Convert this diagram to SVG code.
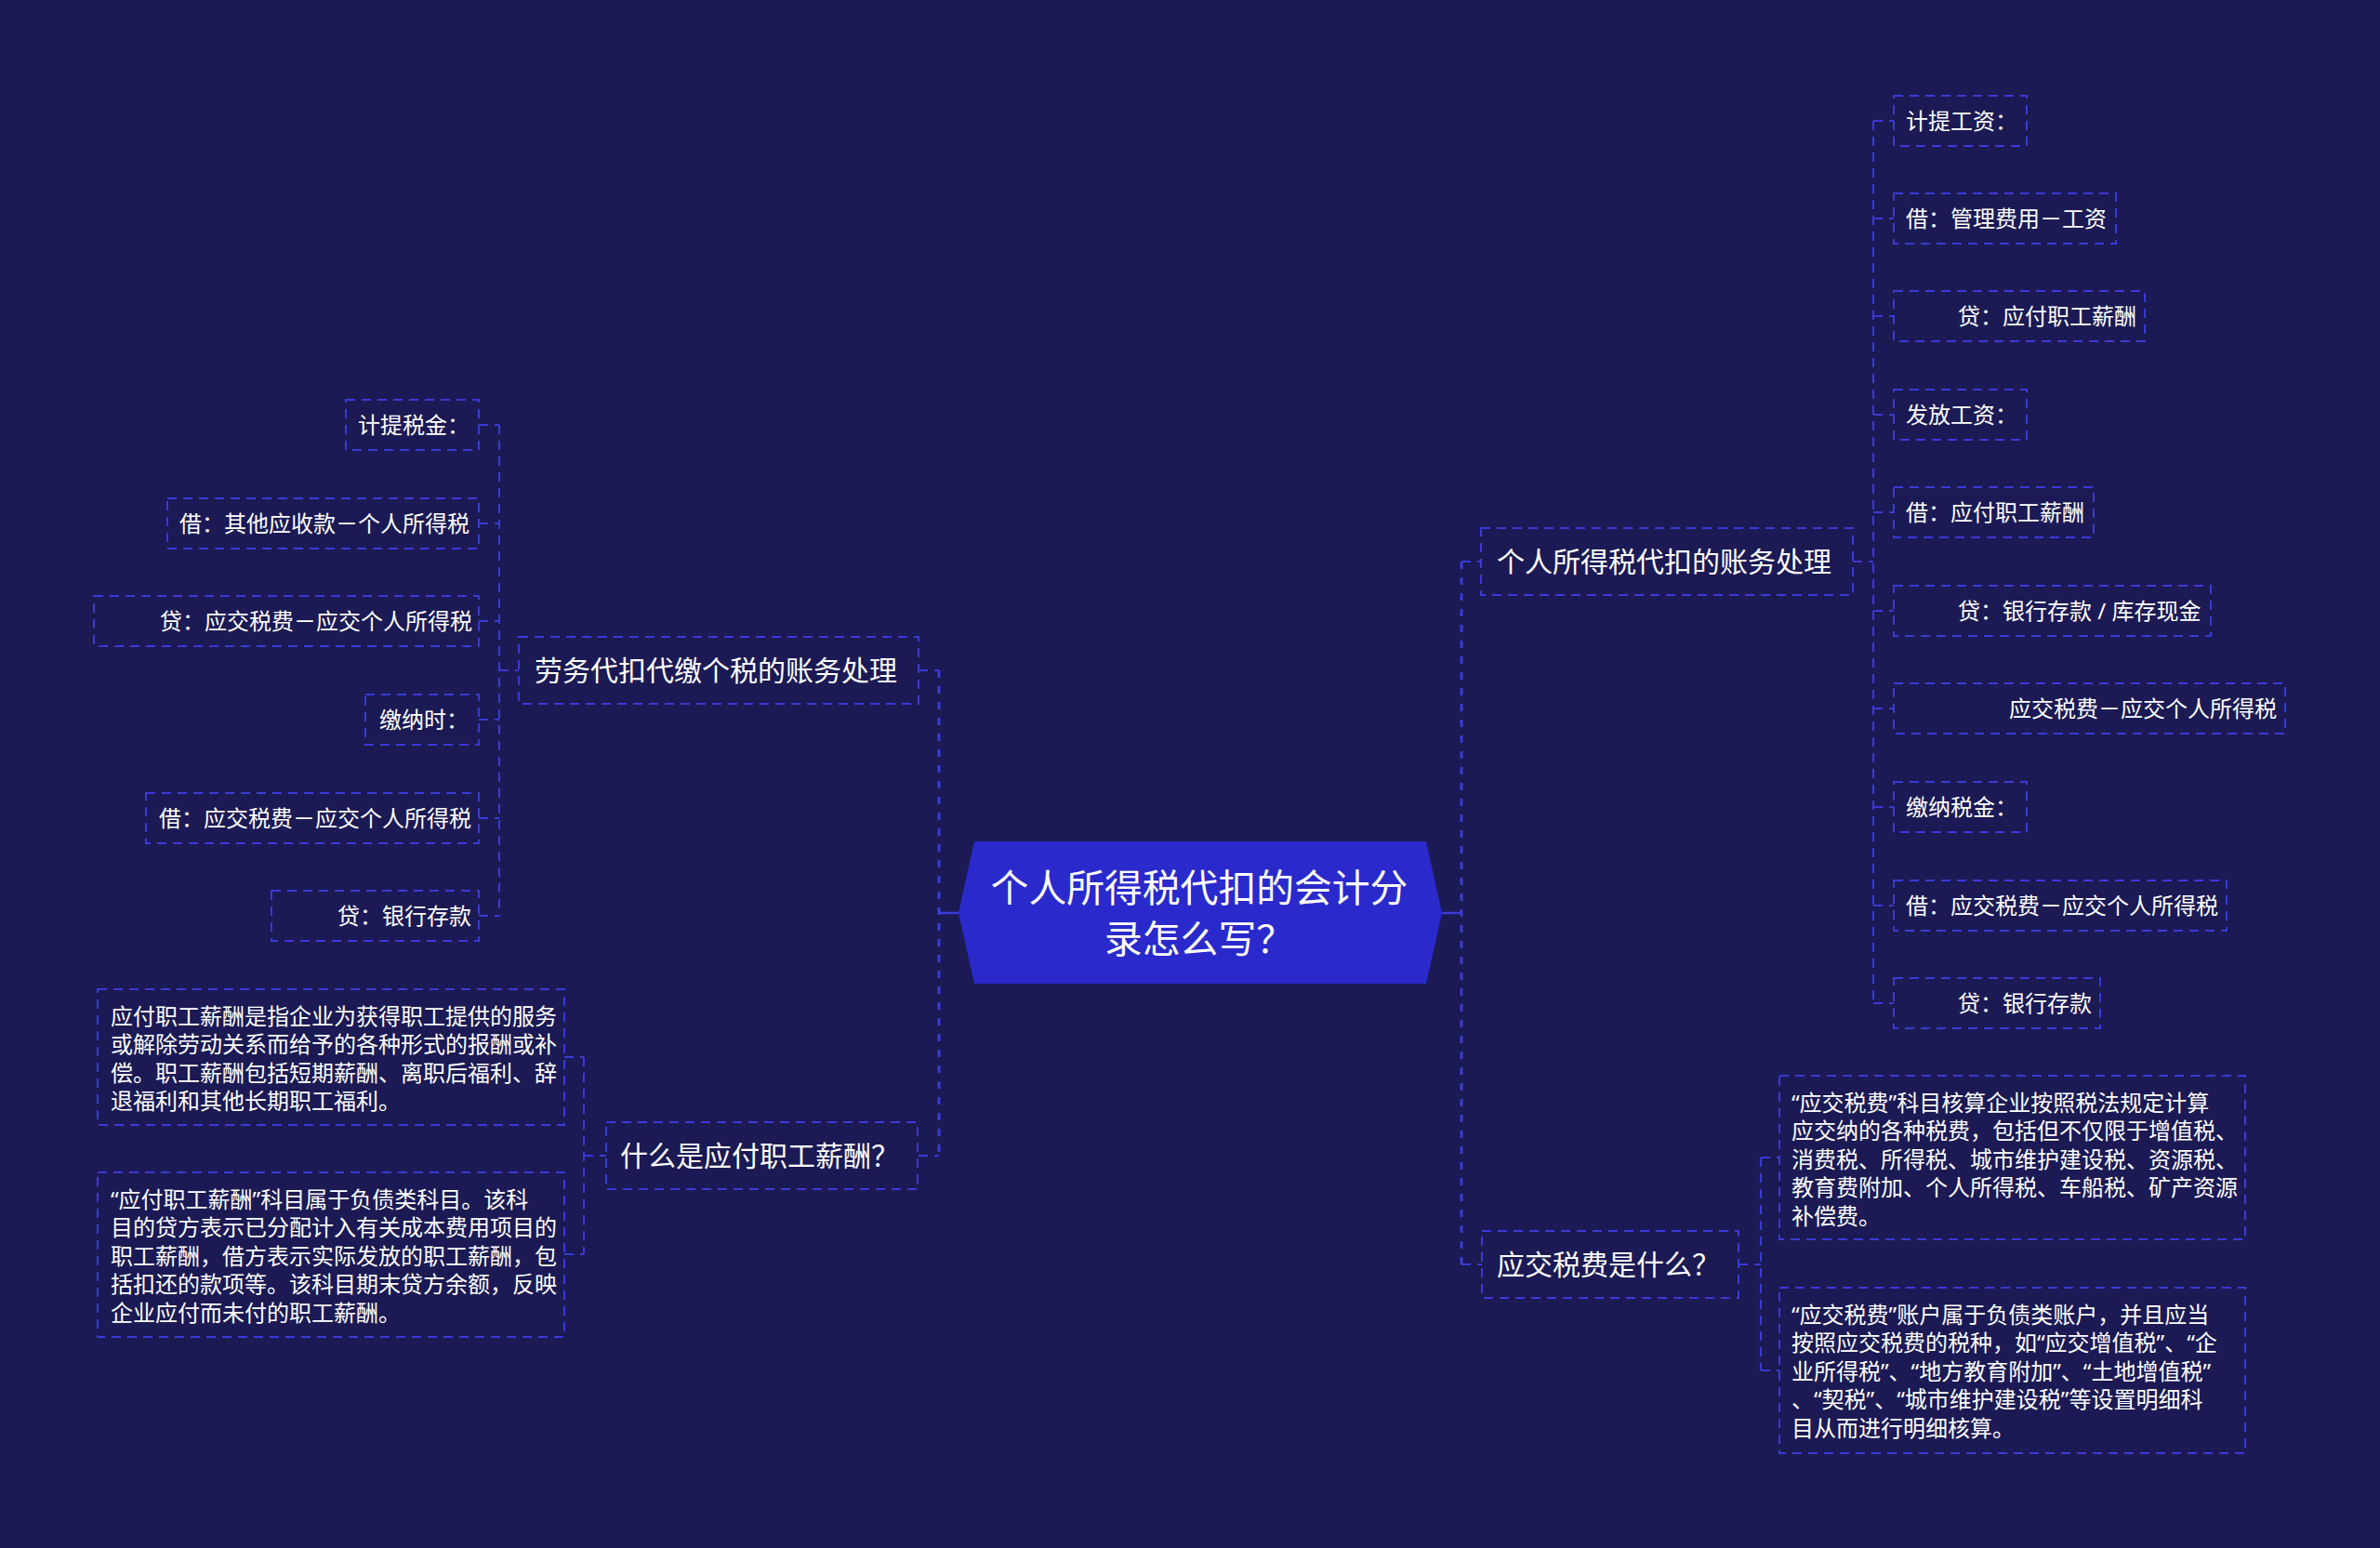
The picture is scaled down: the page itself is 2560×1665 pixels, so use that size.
<svg xmlns="http://www.w3.org/2000/svg" width="2560" height="1665" viewBox="0 0 2560 1665">
<style>
.bx{fill:none;stroke:#3a3ad8;stroke-width:2;stroke-dasharray:10 7}
.cn{fill:none;stroke:#3a3ad8;stroke-width:2;stroke-dasharray:10 7}
.tr{fill:none;stroke:#3a3ad8;stroke-width:3;stroke-dasharray:8 9}
.so{fill:none;stroke:#3a3ad8;stroke-width:2.5}
.t{font-family:"Noto Sans","Noto Sans CJK SC",sans-serif;fill:#ffffff}
.m{font-size:30px}
.l{font-size:24px}
.r{font-size:40.8px}
</style>
<rect width="2560" height="1665" fill="#1b1a54"/>
<g id="connectors">
<path class="so" d="M1010 982H1032M1551 982H1572"/>
<path class="tr" d="M1010 721V1243M1572 604V1360"/>
<path class="cn" d="M988 721H1010M988 1243H1010M1572 604H1593M1572 1360H1594"/>
<path class="cn" d="M537 457V985M537 721H558M515 457H537M515 563H537M515 668H537M515 774H537M515 880H537M515 985H537"/>
<path class="cn" d="M2015 130V1079M1993 604H2015M2015 130H2037M2015 235H2037M2015 340H2037M2015 446H2037M2015 551H2037M2015 657H2037M2015 762H2037M2015 868H2037M2015 974H2037M2015 1079H2037"/>
<path class="cn" d="M628 1137V1349M607 1137H628M607 1349H628M628 1243H652"/>
<path class="cn" d="M1894 1245V1474M1870 1360H1894M1894 1245H1914M1894 1474H1914"/>
</g>
<g id="root">
<polygon points="1031,982 1048,905 1534,905 1551,982 1534,1058 1048,1058" fill="#2a2acc"/>
<text class="t r" x="1290" y="970" text-anchor="middle">个人所得税代扣的会计分</text>
<text class="t r" x="1290" y="1025" text-anchor="middle">录怎么写？</text>
</g>
<g id="n-laowu">
<rect class="bx" x="558" y="685" width="430" height="72"/>
<text class="t m" x="575" y="732">劳务代扣代缴个税的账务处理</text>
</g>
<g id="n-shenme">
<rect class="bx" x="652" y="1207" width="335" height="72"/>
<text class="t m" x="667" y="1254">什么是应付职工薪酬？</text>
</g>
<g id="n-geren">
<rect class="bx" x="1593" y="568" width="400" height="72"/>
<text class="t m" x="1610" y="615">个人所得税代扣的账务处理</text>
</g>
<g id="n-yingjiao">
<rect class="bx" x="1594" y="1324" width="276" height="72"/>
<text class="t m" x="1610" y="1371">应交税费是什么？</text>
</g>
<g id="l1">
<rect class="bx" x="372" y="430" width="143" height="54"/>
<text class="t l" x="385" y="466">计提税金：</text>
</g>
<g id="l2">
<rect class="bx" x="180" y="536" width="335" height="54"/>
<text class="t l" x="193" y="572">借：其他应收款－个人所得税</text>
</g>
<g id="l3">
<rect class="bx" x="101" y="641" width="414" height="54"/>
<text class="t l" x="172" y="677">贷：应交税费－应交个人所得税</text>
</g>
<g id="l4">
<rect class="bx" x="393" y="747" width="122" height="54"/>
<text class="t l" x="408" y="783">缴纳时：</text>
</g>
<g id="l5">
<rect class="bx" x="157" y="853" width="358" height="54"/>
<text class="t l" x="171" y="889">借：应交税费－应交个人所得税</text>
</g>
<g id="l6">
<rect class="bx" x="292" y="958" width="223" height="54"/>
<text class="t l" x="363" y="994">贷：银行存款</text>
</g>
<g id="r1">
<rect class="bx" x="2037" y="103" width="143" height="54"/>
<text class="t l" x="2050" y="139">计提工资：</text>
</g>
<g id="r2">
<rect class="bx" x="2037" y="208" width="239" height="54"/>
<text class="t l" x="2050" y="244">借：管理费用－工资</text>
</g>
<g id="r3">
<rect class="bx" x="2037" y="313" width="270" height="54"/>
<text class="t l" x="2106" y="349">贷：应付职工薪酬</text>
</g>
<g id="r4">
<rect class="bx" x="2037" y="419" width="143" height="54"/>
<text class="t l" x="2050" y="455">发放工资：</text>
</g>
<g id="r5">
<rect class="bx" x="2037" y="524" width="215" height="54"/>
<text class="t l" x="2050" y="560">借：应付职工薪酬</text>
</g>
<g id="r6">
<rect class="bx" x="2037" y="630" width="341" height="54"/>
<text class="t l" x="2106" y="666">贷：银行存款 / 库存现金</text>
</g>
<g id="r7">
<rect class="bx" x="2037" y="735" width="421" height="54"/>
<text class="t l" x="2161" y="771">应交税费－应交个人所得税</text>
</g>
<g id="r8">
<rect class="bx" x="2037" y="841" width="143" height="54"/>
<text class="t l" x="2050" y="877">缴纳税金：</text>
</g>
<g id="r9">
<rect class="bx" x="2037" y="947" width="358" height="54"/>
<text class="t l" x="2050" y="983">借：应交税费－应交个人所得税</text>
</g>
<g id="r10">
<rect class="bx" x="2037" y="1052" width="222" height="54"/>
<text class="t l" x="2106" y="1088">贷：银行存款</text>
</g>
<g id="d1">
<rect class="bx" x="105" y="1064" width="502" height="146"/>
<text class="t l" x="119" y="1101.5">应付职工薪酬是指企业为获得职工提供的服务</text>
<text class="t l" x="119" y="1132">或解除劳动关系而给予的各种形式的报酬或补</text>
<text class="t l" x="119" y="1162.7">偿。职工薪酬包括短期薪酬、离职后福利、辞</text>
<text class="t l" x="119" y="1193.3">退福利和其他长期职工福利。</text>
</g>
<g id="d2">
<rect class="bx" x="105" y="1261" width="502" height="177"/>
<text class="t l" x="119" y="1298.5">“应付职工薪酬”科目属于负债类科目。该科</text>
<text class="t l" x="119" y="1329">目的贷方表示已分配计入有关成本费用项目的</text>
<text class="t l" x="119" y="1359.7">职工薪酬，借方表示实际发放的职工薪酬，包</text>
<text class="t l" x="119" y="1390.3">括扣还的款项等。该科目期末贷方余额，反映</text>
<text class="t l" x="119" y="1421">企业应付而未付的职工薪酬。</text>
</g>
<g id="d3">
<rect class="bx" x="1914" y="1157" width="501" height="176"/>
<text class="t l" x="1927" y="1194.5">“应交税费”科目核算企业按照税法规定计算</text>
<text class="t l" x="1927" y="1225">应交纳的各种税费，包括但不仅限于增值税、</text>
<text class="t l" x="1927" y="1255.7">消费税、所得税、城市维护建设税、资源税、</text>
<text class="t l" x="1927" y="1286.3">教育费附加、个人所得税、车船税、矿产资源</text>
<text class="t l" x="1927" y="1317">补偿费。</text>
</g>
<g id="d4">
<rect class="bx" x="1914" y="1385" width="501" height="178"/>
<text class="t l" x="1927" y="1422.5">“应交税费”账户属于负债类账户，并且应当</text>
<text class="t l" x="1927" y="1453">按照应交税费的税种，如“应交增值税”、“企</text>
<text class="t l" x="1927" y="1483.7">业所得税”、“地方教育附加”、“土地增值税”</text>
<text class="t l" x="1927" y="1514.3">、“契税”、“城市维护建设税”等设置明细科</text>
<text class="t l" x="1927" y="1545">目从而进行明细核算。</text>
</g>
</svg>
